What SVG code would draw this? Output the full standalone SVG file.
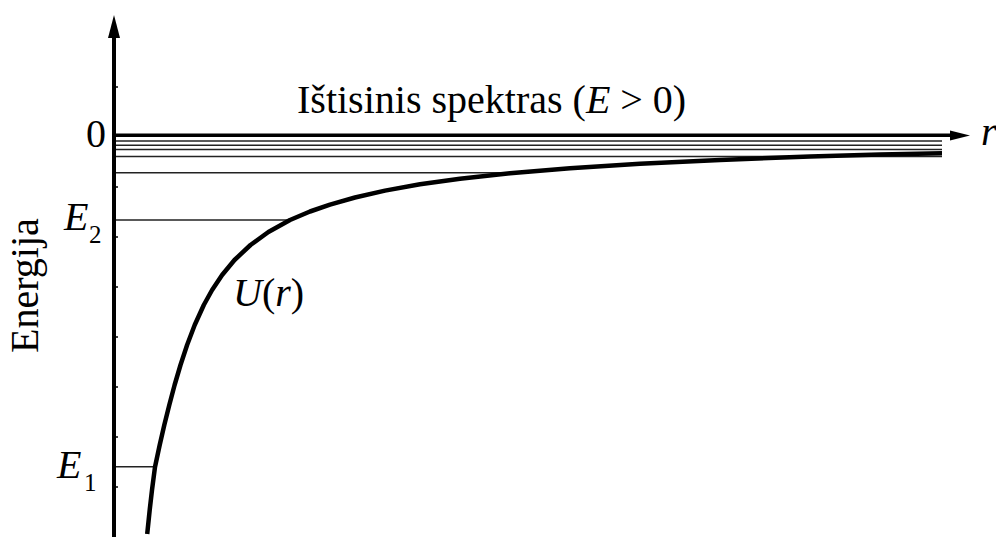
<svg xmlns="http://www.w3.org/2000/svg" width="996" height="537" viewBox="0 0 996 537">
<style>
  .txt { font-family: "Liberation Serif", "Times New Roman", serif; font-size: 40px; fill: #000; }
  .it { font-style: italic; }
  .sub { font-family: "Liberation Serif", "Times New Roman", serif; font-size: 25px; fill: #000; }
  .level { stroke: #222; stroke-width: 1.5; fill: none; }
  .axis { stroke: #000; fill: none; }
  .tick { stroke: #000; stroke-width: 1.5; }
</style>
<rect width="996" height="537" fill="#fff"/>

<g id="levels">
  <line class="level" x1="116" y1="141" x2="942" y2="141"/>
  <line class="level" x1="116" y1="145.3" x2="942" y2="145.3"/>
  <line class="level" x1="116" y1="149.5" x2="942" y2="149.5"/>
  <line class="level" x1="116" y1="156.5" x2="942" y2="156.5"/>
  <line class="level" x1="116" y1="172.7" x2="512" y2="172.7"/>
  <line class="level" x1="116" y1="220" x2="290" y2="220"/>
  <line class="level" x1="116" y1="466.7" x2="156" y2="466.7"/>
</g>

<g id="axes">
  <line class="axis" x1="114" y1="537" x2="114" y2="34" stroke-width="4"/>
  <polygon points="114,15 108,38 120,38" fill="#000"/>
  <line class="axis" x1="112" y1="135.3" x2="952" y2="135.3" stroke-width="3.5"/>
  <polygon points="970,135.5 950,130.5 950,140.5" fill="#000"/>
  <g id="ticks">
    <line class="tick" x1="115" y1="87" x2="118" y2="87"/>
    <line class="tick" x1="115" y1="187" x2="118" y2="187"/>
    <line class="tick" x1="115" y1="237" x2="118" y2="237"/>
    <line class="tick" x1="115" y1="287" x2="118" y2="287"/>
    <line class="tick" x1="115" y1="337" x2="118" y2="337"/>
    <line class="tick" x1="115" y1="387" x2="118" y2="387"/>
    <line class="tick" x1="115" y1="437" x2="118" y2="437"/>
    <line class="tick" x1="115" y1="487" x2="118" y2="487"/>
  </g>
</g>

<g id="curve">
  <path d="M147.2,534 L149.7,510 L152,490 L155,467 L159.7,445 L164.3,425 L169.3,405 L174.6,385 L180.5,365 L187.1,345 L194.7,325 L203.8,305 L212.1,290 L222.1,275 L234.5,260 L250.5,245 L268.4,232 L290,220 L310,211.5 L330,204.6 L355,197.5 L385,190.6 L420,184.3 L460,178.7 L510,173.2 L570,168.2 L640,163.7 L720,159.9 L810,156.6 L880,154.6 L942,153.3" fill="none" stroke="#000" stroke-width="4.5" stroke-linejoin="round"/>
</g>

<g id="labels">
  <text class="txt" x="297" y="113">Ištisinis spektras (<tspan class="it">E</tspan> &gt; 0)</text>
  <text class="txt" x="86" y="146.5">0</text>
  <text class="txt it" x="981" y="145">r</text>
  <text class="txt it" x="64" y="230">E</text>
  <text class="sub" x="89" y="243">2</text>
  <text class="txt it" x="57" y="478">E</text>
  <text class="sub" x="84" y="491">1</text>
  <text class="txt" x="233" y="306"><tspan class="it">U</tspan>(<tspan class="it">r</tspan>)</text>
  <text class="txt" transform="translate(38,353) rotate(-90)">Energija</text>
</g>
</svg>
